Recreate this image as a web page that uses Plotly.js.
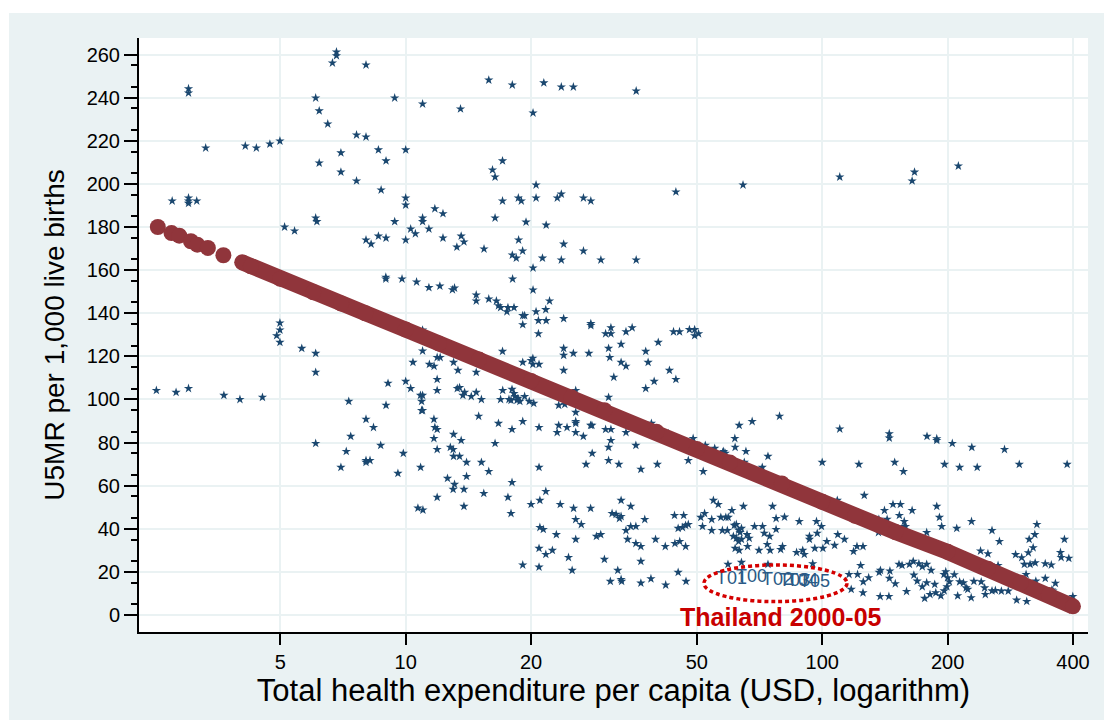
<!DOCTYPE html>
<html>
<head>
<meta charset="utf-8">
<script src="https://cdn.plot.ly/plotly-3.0.1.min.js"></script>
<style>html,body{margin:0;padding:0;background:#fff;}#chart{width:1104px;height:720px;}</style>
</head>
<body>
<div id="chart"></div>
<script>
// ---- Data ----
// Country-year observations: total health expenditure per capita (USD) and U5MR
const obsX = [
6.82,6.82,6.67,8.03,3.01,3.01,6.08,9.41,6.2,10.98,6.5,7.62,8.03,3.31,4.12,4.38,4.72,4.99,6.99,8.60,10.0,6.2,8.97,6.99,7.62,8.73,
2.75,3.01,3.01,3.01,3.15,10.0,10.0,11.75,12.29,6.08,6.12,9.41,10.98,10.98,5.12,5.41,10.28,10.55,11.37,12.29,13.27,8.03,8.26,8.60,
8.97,10.0,8.96,8.96,9.80,10.62,11.37,12.08,12.95,13.1,4.99,4.99,4.9,10.98,
4.99,5.63,6.08,6.08,2.52,2.81,3.01,3.66,4.0,4.53,6.08,7.30,8.97,9.07,10.0,10.28,10.41,10.98,8.03,8.37,7.38,8.71,7.2,8.03,8.21,8.03,
6.99,9.87,9.58,10.86,10.85,10.98,10.92,10.92,10.98,11.69,11.75,11.9,11.69,11.9,11.9,11.9,11.4,11.7,11.9,12.1,13.03,13.3,13.03,12.8,
13.0,13.03,12.6,13.1,13.0,11.9,10.7,11.0,
15.83,18.03,21.46,23.64,25.27,35.76,13.54,20.22,17.08,16.16,16.39,20.56,17.08,18.64,18.95,20.56,23.12,23.64,26.72,27.83,44.54,64.55,
16.39,19.45,21.74,13.59,13.80,15.42,18.67,19.09,18.03,18.43,23.95,26.72,21.30,23.64,29.42,35.76,20.22,18.06,20.22,14.77,14.77,15.83,
16.51,16.7,16.9,22.15,17.5,17.6,18.2,20.56,21.69,19.1,19.3,23.95,19.1,20.83,21.74,20.83,27.83,27.83,31.1,30.2,31.1,33.8,34.97,43.96,
45.45,48.0,49.4,50.5,49.4,
110.2,166.6,164.4,212.3,
17.08,23.95,23.95,25.27,27.53,30.7,30.9,32.9,37.7,40.4,38.2,32.9,33.8,20.2,20.0,20.2,20.9,19.1,23.95,31.6,42.98,44.54,39.5,37.7,
13.35,14.77,17.1,16.9,18.0,18.2,17.7,17.9,18.3,18.6,18.5,18.8,14.77,15.2,14.37,13.72,13.85,13.47,19.3,19.8,20.3,25.6,23.3,24.1,
25.6,30.7,14.97,16.7,19.1,18.0,20.9,23.3,24.4,25.6,25.6,23.1,25.6,26.7,27.8,28.0,30.2,31.1,33.8,31.1,30.7,35.7,38.9,42.7,13.59,16.39,
13.47,14.0,15.2,15.83,14.0,13.8,15.4,13.8,18.0,17.6,17.9,20.9,21.7,21.0,20.0,28.04,27.1,30.7,32.5,36.7,40.2,47.7,49.0,51.8,52.4,55.2,
57.7,58.0,58.5,61.8,61.7,65.6,63.2,67.9,65.0,71.8,74.1,79.0,23.5,25.3,27.8,32.9,34.7,31.3,32.0,32.6,32.9,25.6,26.4,37.5,21.0,21.4,
23.0,25.6,28.7,29.4,33.8,34.7,35.7,34.1,35.7,36.7,20.9,21.7,22.5,24.6,25.1,30.0,36.7,39.8,42.0,44.3,45.5,47.0,44.2,46.5,45.1,46.2,
47.0,47.7,19.1,20.9,32.3,33.0,31.0,32.9,36.7,38.8,42.1,45.1,47.1,51.1,52.2,54.8,56.3,54.3,57.1,58.7,59.5,60.7,64.7,51.6,54.3,57.6,
59.2,61.5,62.2,63.0,63.5,64.0,61.2,62.2,63.0,64.0,66.0,66.8,68.8,71.9,72.6,74.8,77.5,76.0,61.8,63.2,66.2,70.5,73.8,75.0,77.5,59.4,
64.0,74.1,
110.2,144.9,144.9,178.5,188.4,188.4,205.3,228.7,274.0,100.0,122.5,149.3,156.7,196.7,213.8,235.6,297.3,387.3,126.2,108.7,141.1,143.2,
147.9,154.1,153.2,164.4,157.4,157.4,158.5,136.8,136.5,188.4,191.2,193.6,210.4,228.3,178.2,255.7,266.4,314,324,327.7,381.6,373.3,
374.7,391,96.9,99.6,97.3,93.2,93.2,88.1,81.2,109,102.6,107.1,113.1,118.9,125.3,121.2,123.7,96,100.4,86.8,89.8,90.6,94.9,79.5,80.3,
116,121.6,125.5,125.3,129.3,137,138,145.4,152.9,155.5,145.0,149.8,137.8,144.6,159.4,162,165.4,170.7,173.9,178.2,182.6,166,169.1,
173.9,178.2,186.3,176.2,181.5,187.4,196.3,199.3,196,198,200,202,207.6,213.8,218.3,221.6,223.6,192.7,211.5,227.9,231.3,240.9,245.5,
246.4,255.7,240,250,259.5,264.4,269.3,279.7,293,309.8,291.3,301.3,305.8,315.6,321,308.7,325.8,343.2,363,312.6,324.6,343.2,354.9,
358,356,399.7,260.5,269.3,117.4
];
const obsY = [
261.2,259.5,256.1,255.2,244.2,242.2,239.9,239.9,233.9,237.1,227.8,222.7,221.8,216.7,217.6,216.7,218.5,219.9,214.4,215.8,215.8,209.7,210.7,205.5,201.4,197.2,
192.1,193.5,192.1,191.0,192.1,193.5,190.2,188.5,186.2,184.2,182.5,182.5,184.2,182.5,180.0,178.2,179.1,176.9,179.1,174.9,170.7,174.0,172.1,175.8,
174.9,174.0,156.7,155.9,155.9,154.5,151.9,152.6,150.9,151.7,135.5,132.2,129.6,132.2,
126.5,123.7,121.4,112.6,104.2,103.3,105.1,101.9,100.0,101.0,79.6,99.1,97.3,107.5,108.4,105.1,117.2,122.5,90.8,87.0,82.9,78.7,75.9,71.7,71.7,70.8,
68.5,75.0,65.7,68.5,101.9,101.9,99.1,94.9,94.9,90.8,87.0,86.1,81.9,76.8,109.3,104.2,116.3,115.4,119.5,119.5,117.2,105.1,83.8,77.8,
76.8,73.6,63.4,60.6,58.3,54.6,49.6,48.7,
248.2,245.9,246.9,245.0,245.0,243.1,234.8,232.9,210.7,206.5,203.2,199.5,192.1,193.5,192.1,193.5,193.5,195.3,193.5,192.1,196.3,199.5,
184.2,182.3,180.9,175.8,173.1,169.8,174.0,168.9,167.0,165.6,172.1,168.9,165.6,164.7,164.7,164.7,161.0,155.9,150.8,148.5,145.7,146.6,
145.7,143.5,142.6,145.7,140.7,142.6,142.6,140.7,141.7,138.9,138.9,137.5,134.7,136.6,136.6,130.5,135.2,134.3,133.3,130.5,130.5,131.4,133.3,131.4,
131.4,132.4,132.4,130.5,129.6,
203.2,205.5,201.4,208.3,
122.3,123.7,120.5,121.4,121.4,123.7,119.5,125.6,122.3,126.5,117.2,117.2,115.4,119.1,118.1,116.3,116.3,117.2,113.5,110.3,113.5,109.3,108.4,105.1,
113.5,112.6,104.2,100.0,104.7,102.8,100.0,99.6,101.4,100.5,99.6,99.1,103.3,100.0,101.4,101.9,103.3,105.5,101.4,99.1,98.2,104.2,97.3,97.7,
94.0,101.0,92.2,88.9,89.8,86.1,87.0,88.0,87.0,89.8,88.9,84.7,84.7,82.9,88.0,88.0,86.1,86.1,84.7,81.0,77.8,78.7,88.9,84.1,81.0,79.6,
73.6,70.8,70.8,66.6,64.3,58.3,56.4,50.4,61.5,54.6,47.1,68.5,57.3,53.2,51.3,75.0,69.9,71.7,69.9,67.6,69.9,71.7,81.9,66.6,78.7,77.3,
75.4,75.9,75.0,77.8,81.9,75.9,88.0,89.8,70.8,68.5,73.6,92.2,51.3,49.5,49.5,53.2,50.4,47.1,46.7,44.8,45.7,44.3,42.0,44.3,40.6,39.7,
37.3,35.1,36.5,37.3,39.2,41.1,41.1,35.1,33.2,31.8,30.9,28.1,30.0,26.7,20.7,25.8,24.9,35.1,31.8,33.2,34.1,31.8,46.2,46.2,40.2,40.6,
41.6,42.0,23.2,22.2,20.7,15.6,15.6,16.5,14.8,16.8,13.9,19.8,15.6,45.3,47.1,53.2,51.3,44.3,45.3,45.3,45.3,48.5,50.4,41.1,39.2,39.2,
39.2,41.6,42.0,39.4,38.3,40.2,36.5,35.6,34.1,35.1,37.3,35.6,41.1,41.1,37.9,36.5,39.7,50.4,30.9,30.0,31.8,30.0,32.7,30.0,44.8,23.5,
24.4,23.5,
86.3,84.1,82.1,82.9,81.8,81.0,79.6,77.8,76.8,70.8,69.9,70.8,66.6,69.9,68.5,68.5,69.9,69.9,55.5,53.2,48.5,44.4,
51.3,51.3,46.2,48.5,43.4,41.1,41.1,44.4,38.3,50.4,45.3,41.1,40.2,43.4,38.3,39.2,34.1,35.1,37.3,42.0,35.1,29.0,
26.7,26.3,43.4,41.1,37.9,36.5,35.1,43.4,45.4,37.3,34.1,32.3,35.1,29.5,31.8,31.8,23.0,30.9,30.9,29.0,30.0,28.1,23.8,30.4,31.8,
18.8,18.8,15.4,10.3,17.3,19.8,20.7,20.4,23.5,23.0,17.0,14.5,8.6,8.6,10.9,23.5,24.9,23.8,22.4,23.5,20.7,18.5,15.7,
13.1,15.0,14.2,7.7,9.5,10.3,11.2,13.1,18.8,20.1,17.3,15.4,18.7,15.4,14.9,12.6,11.9,8.9,8.9,8.0,15.6,15.4,12.6,
9.5,11.2,29.7,28.4,21.9,23.0,19.1,11.1,6.9,6.3,28.0,26.6,23.5,23.5,31.2,18.8,15.7,17.0,14.7,28.9,24.2,23.8,23.2,
11.1,11.6,8.6,11.4,11.1,11.9
];

// Fitted values (linear fit of U5MR on log expenditure)
const fitSparseX = [2.54, 2.74, 2.86, 3.05, 3.16, 3.35, 3.65];
const fitSparseY = [180.0, 177.2, 176.0, 173.4, 171.8, 170.3, 166.9];
const fitBandX = [4.05, 4.25, 5, 6, 7, 8, 10, 12, 15, 20, 25, 30, 40, 50, 60, 80, 100, 120, 150, 200, 250, 300, 350, 400];
const fitBandY = [163.6, 161.8, 156.0, 149.7, 144.5, 140.0, 132.4, 126.0, 118.5, 108.6, 101.0, 95.0, 85.0, 77.0, 70.8, 61.0, 52.5, 46.0, 38.5, 29.3, 21.5, 15.0, 9.3, 4.0];

// Thailand 2000-05 labelled points
const thaiLabels = ['T01', 'T00', 'T02', 'T03', 'T04', 'T05'];
const thaiX = [55.6, 62.1, 71.7, 78.8, 82.3, 88.0];
const thaiY = [16.5, 17.5, 16.0, 15.5, 15.5, 15.0];

// Axis ticks
const xTickVals = [5, 10, 20, 50, 100, 200, 400];
const xTickText = ['5', '10', '20', '50', '100', '200', '400'];
const yMinorVals = [];
for (let v = 5; v < 260; v += 10) yMinorVals.push(v);

const navy = '#1a476f';
const maroon = '#90353b';
const bg = '#eaf2f3';
const FONT = 'Liberation Sans, Arial, sans-serif';

const traces = [
  { x: obsX, y: obsY, type: 'scatter', mode: 'markers',
    marker: { symbol: 'star', size: 7, color: navy, line: { width: 0 } }, hoverinfo: 'x+y' },
  { x: fitSparseX, y: fitSparseY, type: 'scatter', mode: 'markers',
    marker: { symbol: 'circle', size: 16, color: maroon, line: { width: 0 } } },
  { x: fitBandX, y: fitBandY, type: 'scatter', mode: 'lines+markers',
    line: { color: maroon, width: 16 },
    marker: { symbol: 'circle', size: 16, color: maroon, line: { width: 0 } } },
  { x: thaiX, y: thaiY, type: 'scatter', mode: 'text', text: thaiLabels,
    textposition: 'middle right', cliponaxis: false,
    textfont: { family: FONT, size: 18, color: '#2a5a86' } }
];

const layout = {
  width: 1104, height: 720,
  paper_bgcolor: bg, plot_bgcolor: '#ffffff',
  margin: { l: 139, r: 16, t: 38, b: 88, pad: 0 },
  showlegend: false,
  font: { family: FONT, color: '#000' },
  xaxis: {
    type: 'log', range: [0.3597, 2.6382],
    tickmode: 'array', tickvals: xTickVals, ticktext: xTickText,
    ticks: 'outside', ticklen: 11, tickwidth: 2, tickcolor: '#000',
    showline: true, linecolor: '#000', linewidth: 2, mirror: false,
    showgrid: true, gridcolor: bg, gridwidth: 2, zeroline: false,
    tickfont: { family: FONT, size: 20, color: '#000' },
    title: { text: 'Total health expenditure per capita (USD, logarithm)', font: { family: FONT, size: 31, color: '#000' }, standoff: 0 }
  },
  yaxis: {
    range: [-7.9, 267.7], tickmode: 'linear', tick0: 0, dtick: 20,
    ticks: 'outside', ticklen: 13, tickwidth: 2, tickcolor: '#000',
    minor: { tickmode: 'array', tickvals: yMinorVals, ticks: 'outside', ticklen: 6, tickwidth: 2, tickcolor: '#000', showgrid: false },
    showline: true, linecolor: '#000', linewidth: 2,
    showgrid: true, gridcolor: bg, gridwidth: 2, zeroline: false,
    tickfont: { family: FONT, size: 20, color: '#000' },
    title: { text: 'U5MR per 1,000 live births', font: { family: FONT, size: 28, color: '#000' }, standoff: 14 }
  },
  shapes: [
    { type: 'rect', xref: 'paper', yref: 'paper', x0: -0.3, x1: 1.2, y0: 1.0421, y1: 1.2, fillcolor: '#ffffff', line: { width: 0 }, layer: 'below' },
    { type: 'rect', xref: 'paper', yref: 'paper', x0: -0.3, x1: -0.137, y0: -0.3, y1: 1.2, fillcolor: '#ffffff', line: { width: 0 }, layer: 'below' },
    { type: 'circle', xref: 'x', yref: 'y', x0: 52.0, x1: 114.7, y0: 6.2, y1: 23.2,
      line: { color: '#d40000', width: 3.5, dash: '4px,3px' } }
  ],
  annotations: [
    { xref: 'x', yref: 'y', x: Math.log10(79.6), y: -1.0, text: '<b>Thailand 2000-05</b>', showarrow: false,
      xanchor: 'center', yanchor: 'middle', font: { family: FONT, size: 25, color: '#c80000' } }
  ]
};

Plotly.newPlot('chart', traces, layout, { displayModeBar: false, staticPlot: true });
</script>
</body>
</html>
